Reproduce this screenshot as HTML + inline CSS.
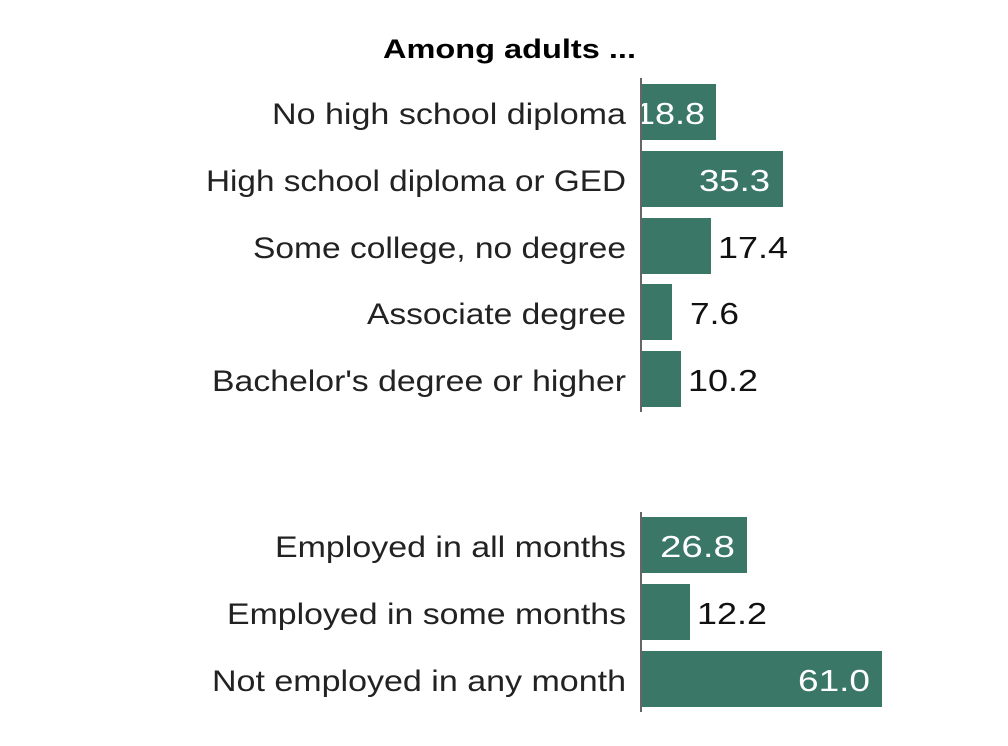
<!DOCTYPE html>
<html><head><meta charset="utf-8"><style>
html,body{margin:0;padding:0;background:#fff;}
svg{display:block;}
text{font-family:"Liberation Sans",sans-serif;}
</style></head><body>
<svg width="1008" height="746" viewBox="0 0 1008 746">
<text x="383" y="58" font-size="27" font-weight="bold" fill="#000" textLength="253" lengthAdjust="spacingAndGlyphs">Among adults ...</text>
<g fill="#3b7767">
<rect x="642" y="84" width="74" height="56"/>
<rect x="642" y="151" width="141" height="56"/>
<rect x="642" y="218" width="69" height="56"/>
<rect x="642" y="284" width="30" height="56"/>
<rect x="642" y="351" width="39" height="56"/>
<rect x="642" y="517" width="105" height="56"/>
<rect x="642" y="584" width="48" height="56"/>
<rect x="642" y="651" width="240" height="56"/>
</g>
<g font-size="31" fill="#fff">
<text x="635" y="124" textLength="70" lengthAdjust="spacingAndGlyphs">18.8</text>
<text x="699" y="191" textLength="71" lengthAdjust="spacingAndGlyphs">35.3</text>
<text x="660" y="557" textLength="75" lengthAdjust="spacingAndGlyphs">26.8</text>
<text x="798" y="691" textLength="72" lengthAdjust="spacingAndGlyphs">61.0</text>
</g>
<rect x="628" y="84" width="12" height="56" fill="#fff"/>
<g font-size="30" fill="#222">
<text x="272" y="124" textLength="354" lengthAdjust="spacingAndGlyphs">No high school diploma</text>
<text x="206" y="191" textLength="420" lengthAdjust="spacingAndGlyphs">High school diploma or GED</text>
<text x="253" y="258" textLength="373" lengthAdjust="spacingAndGlyphs">Some college, no degree</text>
<text x="367" y="324" textLength="259" lengthAdjust="spacingAndGlyphs">Associate degree</text>
<text x="212" y="391" textLength="414" lengthAdjust="spacingAndGlyphs">Bachelor's degree or higher</text>
<text x="275" y="557" textLength="351" lengthAdjust="spacingAndGlyphs">Employed in all months</text>
<text x="227" y="624" textLength="399" lengthAdjust="spacingAndGlyphs">Employed in some months</text>
<text x="212" y="691" textLength="414" lengthAdjust="spacingAndGlyphs">Not employed in any month</text>
</g>
<g font-size="31" fill="#111">
<text x="718" y="258" textLength="70" lengthAdjust="spacingAndGlyphs">17.4</text>
<text x="690" y="324" textLength="49" lengthAdjust="spacingAndGlyphs">7.6</text>
<text x="688" y="391" textLength="70" lengthAdjust="spacingAndGlyphs">10.2</text>
<text x="697" y="624" textLength="70" lengthAdjust="spacingAndGlyphs">12.2</text>
</g>
<g stroke="#666" stroke-width="2">
<line x1="641" y1="78" x2="641" y2="412"/>
<line x1="641" y1="512" x2="641" y2="712"/>
</g>
</svg>
</body></html>
